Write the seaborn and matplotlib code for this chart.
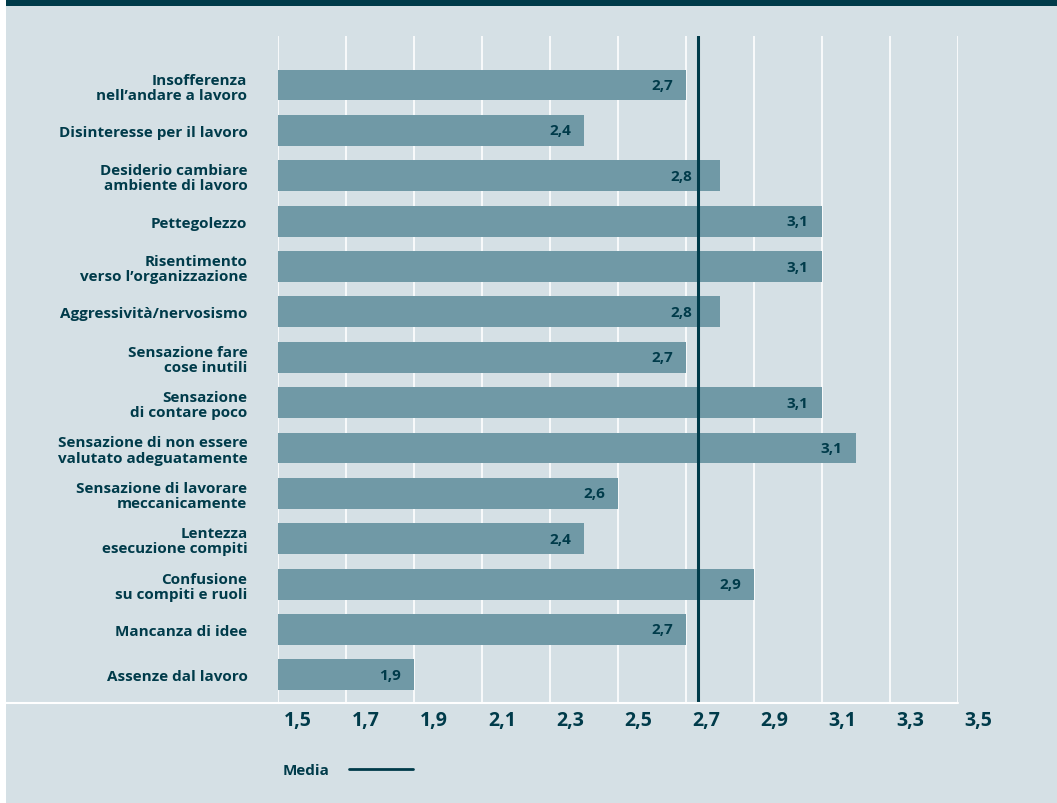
import pandas as pd
import numpy as np
import matplotlib.pyplot as plt
import matplotlib.transforms as mtransforms
from matplotlib.patches import Rectangle
from matplotlib.lines import Line2D
import seaborn as sns

# Data
categories = [
    "Insofferenza\nnell\u2019andare a lavoro",
    "Disinteresse per il lavoro",
    "Desiderio cambiare\nambiente di lavoro",
    "Pettegolezzo",
    "Risentimento\nverso l\u2019organizzazione",
    "Aggressivit\u00e0/nervosismo",
    "Sensazione fare\ncose inutili",
    "Sensazione\ndi contare poco",
    "Sensazione di non essere\nvalutato adeguatamente",
    "Sensazione di lavorare\nmeccanicamente",
    "Lentezza\nesecuzione compiti",
    "Confusione\nsu compiti e ruoli",
    "Mancanza di idee",
    "Assenze dal lavoro",
]
values = [2.7, 2.4, 2.8, 3.1, 3.1, 2.8, 2.7, 3.1, 3.2, 2.5, 2.4, 2.9, 2.7, 1.9]
value_labels = ["2,7", "2,4", "2,8", "3,1", "3,1", "2,8", "2,7", "3,1", "3,1", "2,6", "2,4", "2,9", "2,7", "1,9"]
media = 2.735
ticks = [1.5, 1.7, 1.9, 2.1, 2.3, 2.5, 2.7, 2.9, 3.1, 3.3, 3.5]
tick_labels = ["1,5", "1,7", "1,9", "2,1", "2,3", "2,5", "2,7", "2,9", "3,1", "3,3", "3,5"]

panel = "#d5e0e5"
bar_col = "#7099a6"
dark = "#003b4a"

sns.set_style("white")
plt.rcParams['font.family'] = ['Open Sans', 'DejaVu Sans']

df = pd.DataFrame({"cat": categories, "val": values})

fig = plt.figure(figsize=(10.57, 8.04), dpi=100, facecolor="white")
# background panel and top band
fig.patches.append(Rectangle((6 / 1057, 0), 1, 1, transform=fig.transFigure,
                             facecolor=panel, edgecolor="none", zorder=-2))
fig.patches.append(Rectangle((6 / 1057, 1 - 7 / 804), 1, 7 / 804, transform=fig.transFigure,
                             facecolor=dark, edgecolor="none", zorder=-1))

ax = fig.add_axes([278 / 1057, 1 - 704 / 804, 680 / 1057, 667 / 804])
ax.set_facecolor("none")

sns.barplot(data=df, x="val", y="cat", orient="h", color=bar_col, saturation=1,
            width=0.68, linewidth=0, ax=ax, zorder=2)

ax.set_xlim(1.5, 3.5)
ax.set_ylim(13.62, -1.08)
for s in ax.spines.values():
    s.set_visible(False)

# vertical gridlines
for t in ticks:
    ax.axvline(t, color="white", lw=1.2, zorder=1)

# media line
ax.axvline(media, color=dark, lw=2.2, zorder=3)

# value labels inside bars (moved left of the media line when they would cross it)
for i, (v, lab) in enumerate(zip(values, value_labels)):
    if media < v < media + 0.1:
        xy, dx = (media, i), -4
    else:
        xy, dx = (v, i), -9.5
    ax.annotate(lab, xy=xy, xytext=(dx, 0), textcoords="offset points",
                ha="right", va="center", fontsize=11, fontweight="bold", color=dark, zorder=4)

# category labels
ax.set_yticks(range(len(categories)))
ax.set_yticklabels(categories, fontsize=11, fontweight="bold", color=dark,
                   linespacing=1.1, ha="right")
ax.tick_params(axis="y", length=0, pad=22)
ax.set_ylabel("")
ax.set_xlabel("")

# x ticks: white tick marks below the baseline, labels to the right
ax.set_xticks(ticks)
ax.set_xticklabels([])
ax.tick_params(axis="x", length=24, width=1.2, color="white", direction="out")
trans = mtransforms.blended_transform_factory(ax.transData, ax.transAxes)
for t, lab in zip(ticks, tick_labels):
    ax.annotate(lab, xy=(t, 0), xycoords=trans, xytext=(4.5, -12.5), textcoords="offset points",
                ha="left", va="center", fontsize=14, fontweight="bold", color=dark)

# horizontal baseline from the left of the panel
fig.lines.append(Line2D([6 / 1057, 958 / 1057], [1 - 704 / 804, 1 - 704 / 804],
                        transform=fig.transFigure, color="white", lw=1.5, zorder=2))

# legend
fig.text(283 / 1057, 1 - 771 / 804, "Media", fontsize=11, fontweight="bold", color=dark,
         ha="left", va="center")
fig.lines.append(Line2D([349 / 1057, 413 / 1057], [1 - 770 / 804, 1 - 770 / 804],
                        transform=fig.transFigure, color=dark, lw=2))

fig.savefig("out.png", dpi=100, facecolor=fig.get_facecolor())
